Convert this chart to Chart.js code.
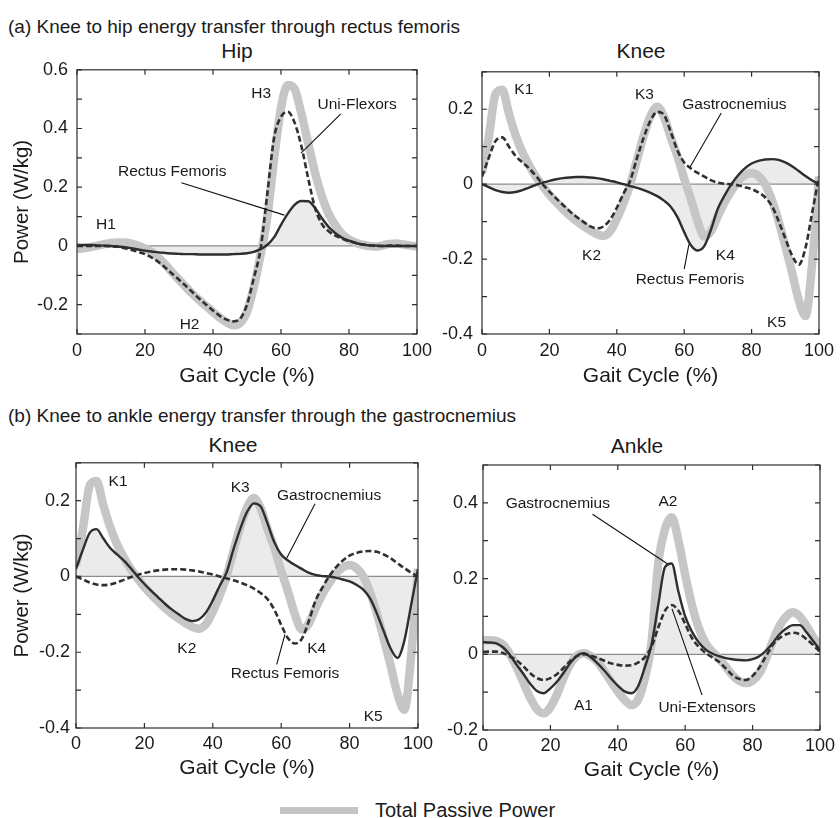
<!DOCTYPE html>
<html>
<head>
<meta charset="utf-8">
<script src="https://cdn.jsdelivr.net/npm/chart.js@4.4.1/dist/chart.umd.min.js"></script>
<style>
  body { margin: 0; background: #fff; }
  #page { position: relative; width: 840px; height: 818px; overflow: hidden; font-family: "Liberation Sans", Arial, sans-serif; color: #1a1a1a; }
  canvas { position: absolute; }
  .txt { position: absolute; white-space: nowrap; }
  .head { font-size: 19px; line-height: 19px; left: 8px; }
  .ttl { font-size: 21px; line-height: 21px; width: 200px; text-align: center; }
</style>
</head>
<body>
<div id="page">
  <div class="txt head" style="top:17px">(a) Knee to hip energy transfer through rectus femoris</div>
  <div class="txt ttl" style="top:40px; left:137px">Hip</div>
  <div class="txt ttl" style="top:40px; left:541px">Knee</div>
  <canvas id="hipChart" width="438" height="339" style="left:0px; top:50px"></canvas>
  <canvas id="kneeTopChart" width="410" height="337" style="left:430px; top:52px"></canvas>

  <div class="txt head" style="top:406px">(b) Knee to ankle energy transfer through the gastrocnemius</div>
  <div class="txt ttl" style="top:434px; left:133px">Knee</div>
  <div class="txt ttl" style="top:435px; left:537px">Ankle</div>
  <canvas id="kneeBotChart" width="438" height="335" style="left:0px; top:446px"></canvas>
  <canvas id="ankleChart" width="410" height="334" style="left:430px; top:449px"></canvas>

  <div style="position:absolute; left:280px; top:807px; width:78px; height:7px; background:#c4c4c4"></div>
  <div class="txt" style="left:375px; top:800px; font-size:20px; line-height:20px">Total Passive Power</div>
</div>

<script>
const gaitX = [0, 2, 4, 6, 8, 10, 12, 14, 16, 18, 20, 22, 24, 26, 28, 30, 32, 34, 36, 38, 40, 42, 44, 46, 48, 50,
    52, 54, 56, 58, 60, 62, 64, 66, 68, 70, 72, 74, 76, 78, 80, 82, 84, 86, 88, 90, 92, 94, 96, 98, 100];

// hip power (W/kg)
const hipTotal = [-0.010, -0.008, -0.004, 0.001, 0.006, 0.010, 0.012, 0.012, 0.008, 0.001, -0.009, -0.021, -0.040,
    -0.064, -0.090, -0.115, -0.140, -0.164, -0.185, -0.205, -0.225, -0.244, -0.260, -0.270, -0.262, -0.225,
    -0.140, -0.030, 0.100, 0.300, 0.470, 0.548, 0.535, 0.450, 0.350, 0.250, 0.170, 0.110, 0.070, 0.040,
    0.022, 0.011, 0.004, 0.000, -0.002, 0.002, 0.007, 0.008, 0.005, 0.001, -0.002];
const hipUniFlexors = [0, 0, 0, 0, 0, -0.001, -0.003, -0.008, -0.014, -0.020, -0.028, -0.040, -0.055,
    -0.074, -0.095, -0.115, -0.136, -0.158, -0.180, -0.200, -0.220, -0.238, -0.251, -0.257, -0.248, -0.200,
    -0.110, -0.010, 0.180, 0.370, 0.440, 0.457, 0.420, 0.340, 0.230, 0.130, 0.075, 0.050, 0.035, 0.025,
    0.017, 0.010, 0.005, 0.002, 0, 0, 0.001, 0.001, 0, 0, 0];
const hipRectusFemoris = [0.003, 0.003, 0.003, 0.002, 0.001, 0, -0.002, -0.004, -0.008, -0.012, -0.016, -0.019,
    -0.022, -0.024, -0.026, -0.027, -0.028, -0.028, -0.029, -0.029, -0.029, -0.029, -0.029, -0.028, -0.027,
    -0.025, -0.020, -0.011, 0.004, 0.030, 0.072, 0.110, 0.140, 0.153, 0.152, 0.130, 0.095, 0.065, 0.043,
    0.028, 0.018, 0.010, 0.005, 0.002, 0.001, 0, 0, 0, 0, 0, 0];

// knee power (W/kg)
const kneeTotal = [0.030, 0.125, 0.240, 0.252, 0.188, 0.130, 0.085, 0.050, 0.020, -0.005, -0.028, -0.048,
    -0.066, -0.083, -0.098, -0.111, -0.123, -0.133, -0.138, -0.126, -0.093, -0.050, 0.000, 0.065, 0.130,
    0.182, 0.207, 0.180, 0.125, 0.075, 0.015, -0.040, -0.100, -0.140, -0.125, -0.085, -0.048, -0.018, 0.008,
    0.024, 0.030, 0.022, 0.000, -0.042, -0.098, -0.165, -0.235, -0.310, -0.352, -0.210, 0.020];
const kneeGastrocnemius = [0.020, 0.070, 0.115, 0.125, 0.100, 0.075, 0.058, 0.042, 0.022, 0.000, -0.020, -0.038,
    -0.055, -0.072, -0.087, -0.100, -0.112, -0.118, -0.113, -0.095, -0.063, -0.025, 0.010, 0.070, 0.125,
    0.170, 0.193, 0.185, 0.140, 0.090, 0.058, 0.042, 0.030, 0.020, 0.010, 0.004, 0.001, 0.000, -0.003,
    -0.008, -0.013, -0.022, -0.035, -0.058, -0.098, -0.145, -0.190, -0.215, -0.170, -0.075, 0.020];
const kneeRectusFemoris = [0, -0.008, -0.016, -0.021, -0.023, -0.021, -0.016, -0.009, -0.002, 0.004, 0.009,
    0.013, 0.016, 0.018, 0.019, 0.019, 0.018, 0.016, 0.013, 0.009, 0.005, 0.000, -0.005, -0.010, -0.016,
    -0.023, -0.032, -0.044, -0.060, -0.088, -0.128, -0.163, -0.177, -0.165, -0.120, -0.065, -0.030, 0.000,
    0.024, 0.042, 0.055, 0.062, 0.066, 0.067, 0.065, 0.058, 0.048, 0.035, 0.022, 0.010, 0];

// ankle power (W/kg)
const ankleTotal = [0.037, 0.037, 0.035, 0.025, 0.000, -0.035, -0.075, -0.115, -0.145, -0.156, -0.140, -0.105,
    -0.060, -0.025, -0.003, 0.003, -0.005, -0.020, -0.045, -0.072, -0.098, -0.120, -0.134, -0.120, -0.065,
    0.030, 0.240, 0.330, 0.362, 0.300, 0.210, 0.130, 0.070, 0.030, 0.007, -0.010, -0.032, -0.055, -0.070,
    -0.076, -0.070, -0.050, -0.012, 0.035, 0.075, 0.100, 0.111, 0.100, 0.075, 0.045, 0.020];
const ankleGastrocnemius = [0.032, 0.031, 0.029, 0.018, -0.002, -0.028, -0.052, -0.078, -0.097, -0.103, -0.090,
    -0.072, -0.048, -0.022, -0.003, 0.003, -0.008, -0.024, -0.043, -0.064, -0.083, -0.098, -0.103, -0.085,
    -0.035, 0.025, 0.130, 0.230, 0.240, 0.165, 0.100, 0.060, 0.032, 0.013, 0.002, -0.005, -0.010, -0.013,
    -0.015, -0.016, -0.013, -0.005, 0.010, 0.030, 0.053, 0.068, 0.077, 0.077, 0.058, 0.035, 0.011];
const ankleUniExtensors = [0.006, 0.007, 0.007, 0.003, -0.006, -0.016, -0.032, -0.050, -0.063, -0.068, -0.063,
    -0.052, -0.035, -0.017, -0.004, 0.000, -0.004, -0.010, -0.017, -0.024, -0.028, -0.030, -0.029, -0.022,
    -0.008, 0.020, 0.070, 0.115, 0.130, 0.115, 0.080, 0.043, 0.020, 0.004, -0.008, -0.020, -0.037, -0.055,
    -0.065, -0.068, -0.057, -0.035, -0.005, 0.025, 0.043, 0.053, 0.057, 0.053, 0.040, 0.024, 0.007];

// labels on the plots, in data units
const hipNotes = [
    { text: 'H1', x: 8.5, y: 0.072 },
    { text: 'H2', x: 33.1, y: -0.269 },
    { text: 'H3', x: 54.2, y: 0.52 },
    { text: 'Uni-Flexors', x: 82.4, y: 0.48 },
    { text: 'Rectus Femoris', x: 28, y: 0.252 }
];
const hipLeaders = [[77.6, 0.45, 65.9, 0.316], [30.7, 0.215, 61, 0.105]];

const kneeTopNotes = [
    { text: 'K1', x: 12.4, y: 0.253 },
    { text: 'K3', x: 48.2, y: 0.24 },
    { text: 'Gastrocnemius', x: 74.9, y: 0.212 },
    { text: 'K2', x: 32.5, y: -0.19 },
    { text: 'K4', x: 72.2, y: -0.19 },
    { text: 'Rectus Femoris', x: 61.7, y: -0.256 },
    { text: 'K5', x: 87.4, y: -0.37 }
];
const kneeTopLeaders = [[71, 0.19, 61.7, 0.045], [60, -0.227, 61.4, -0.161]];

const kneeBotNotes = [
    { text: 'K1', x: 12.3, y: 0.25 },
    { text: 'K3', x: 48, y: 0.234 },
    { text: 'Gastrocnemius', x: 74, y: 0.213 },
    { text: 'K2', x: 32.4, y: -0.19 },
    { text: 'K4', x: 70.4, y: -0.19 },
    { text: 'Rectus Femoris', x: 61.1, y: -0.256 },
    { text: 'K5', x: 86.9, y: -0.37 }
];
const kneeBotLeaders = [[69.9, 0.192, 61.6, 0.048], [58.7, -0.232, 61.1, -0.153]];

const ankleNotes = [
    { text: 'Gastrocnemius', x: 22.2, y: 0.399 },
    { text: 'A2', x: 54.9, y: 0.403 },
    { text: 'A1', x: 29.8, y: -0.137 },
    { text: 'Uni-Extensors', x: 66.5, y: -0.142 }
];
const ankleLeaders = [[32.5, 0.37, 54.7, 0.239], [65, -0.108, 56.1, 0.12]];

Chart.defaults.font.family = '"Liberation Sans", Arial, sans-serif';
Chart.defaults.color = '#1a1a1a';

const INK = '#2e2e2e';

// frame, inward ticks, zero line and the text notes
const framePlugin = {
    id: 'frame',
    beforeDatasetsDraw(chart) {
        const { ctx, chartArea: a, scales: { y } } = chart;
        const y0 = y.getPixelForValue(0);
        ctx.save();
        ctx.strokeStyle = '#8c8c8c';
        ctx.lineWidth = 1.3;
        ctx.beginPath();
        ctx.moveTo(a.left, y0);
        ctx.lineTo(a.right, y0);
        ctx.stroke();
        ctx.restore();
    },
    afterDatasetsDraw(chart, args, opts) {
        const { ctx, chartArea: a, scales: { x, y } } = chart;
        ctx.save();
        ctx.strokeStyle = INK;
        ctx.lineWidth = 1.2;
        ctx.strokeRect(a.left, a.top, a.right - a.left, a.bottom - a.top);
        ctx.beginPath();
        x.ticks.forEach(t => {
            const px = x.getPixelForValue(t.value);
            ctx.moveTo(px, a.bottom); ctx.lineTo(px, a.bottom - 5);
            ctx.moveTo(px, a.top); ctx.lineTo(px, a.top + 5);
        });
        y.ticks.forEach(t => {
            const py = y.getPixelForValue(t.value);
            ctx.moveTo(a.left, py); ctx.lineTo(a.left + 5, py);
            ctx.moveTo(a.right, py); ctx.lineTo(a.right - 5, py);
        });
        ctx.stroke();

        ctx.strokeStyle = '#111';
        ctx.lineWidth = 1.1;
        ctx.beginPath();
        (opts.leaders || []).forEach(l => {
            ctx.moveTo(x.getPixelForValue(l[0]), y.getPixelForValue(l[1]));
            ctx.lineTo(x.getPixelForValue(l[2]), y.getPixelForValue(l[3]));
        });
        ctx.stroke();

        ctx.fillStyle = '#1a1a1a';
        ctx.font = '15.5px "Liberation Sans", Arial, sans-serif';
        ctx.textAlign = 'center';
        ctx.textBaseline = 'middle';
        (opts.notes || []).forEach(n => {
            ctx.fillText(n.text, x.getPixelForValue(n.x), y.getPixelForValue(n.y));
        });
        ctx.restore();
    }
};

function toPoints(values) {
    return values.map((v, i) => ({ x: gaitX[i], y: v }));
}

function makePanel(id, p) {
    const solid = {
        data: toPoints(p.solid),
        borderColor: INK,
        borderWidth: 2.4,
        fill: 'origin',
        backgroundColor: '#ebebeb'
    };
    const dashed = {
        data: toPoints(p.dashed),
        borderColor: '#303030',
        borderWidth: 2.6,
        borderDash: [6, 3],
        fill: false
    };
    const total = {
        data: toPoints(p.total),
        borderColor: '#c6c6c6',
        borderWidth: 8.5,
        borderJoinStyle: 'round',
        fill: false
    };
    return new Chart(document.getElementById(id), {
        type: 'line',
        data: { datasets: [solid, dashed, total] },
        options: {
            responsive: false,
            animation: false,
            events: [],
            layout: { padding: { top: 16, right: p.padRight, left: 0, bottom: 0 } },
            elements: {
                point: { radius: 0 },
                line: { cubicInterpolationMode: 'monotone' }
            },
            plugins: {
                legend: { display: false },
                tooltip: { enabled: false },
                filler: { drawTime: 'beforeDatasetsDraw' },
                frame: { notes: p.notes, leaders: p.leaders }
            },
            scales: {
                x: {
                    type: 'linear',
                    min: 0,
                    max: 100,
                    grid: { display: false, drawTicks: false },
                    border: { display: false },
                    ticks: { stepSize: 20, padding: p.xPad, maxRotation: 0, font: { size: 18 }, color: '#1a1a1a' },
                    title: { display: true, text: 'Gait Cycle (%)', font: { size: 21 }, padding: { top: 0, bottom: 0 }, color: '#1a1a1a' },
                    afterFit: s => { s.height = p.xHeight; }
                },
                y: {
                    min: p.yMin,
                    max: p.yMax,
                    grid: { display: false, drawTicks: false },
                    border: { display: false },
                    ticks: {
                        stepSize: 0.1,
                        autoSkip: false,
                        padding: p.yPad,
                        font: { size: 18 },
                        color: '#1a1a1a',
                        callback: v => {
                            const k = Math.round(v * 10);
                            if (k % 2 !== 0) return '';
                            return k === 0 ? '0' : (k / 10).toFixed(1);
                        }
                    },
                    title: { display: p.yTitle, text: 'Power (W/kg)', font: { size: 20.5 }, padding: { top: 10, bottom: 0 }, color: '#1a1a1a' },
                    afterFit: s => { s.width = p.yWidth; }
                }
            }
        },
        plugins: [framePlugin]
    });
}

makePanel('hipChart', {
    total: hipTotal, dashed: hipUniFlexors, solid: hipRectusFemoris,
    yMin: -0.3, yMax: 0.6, yWidth: 77, yPad: 9, yTitle: true,
    xHeight: 55, xPad: 6, padRight: 20,
    notes: hipNotes, leaders: hipLeaders
});
makePanel('kneeTopChart', {
    total: kneeTotal, dashed: kneeGastrocnemius, solid: kneeRectusFemoris,
    yMin: -0.4, yMax: 0.3, yWidth: 52, yPad: 9, yTitle: false,
    xHeight: 55, xPad: 6, padRight: 18,
    notes: kneeTopNotes, leaders: kneeTopLeaders
});
makePanel('kneeBotChart', {
    total: kneeTotal, dashed: kneeRectusFemoris, solid: kneeGastrocnemius,
    yMin: -0.4, yMax: 0.3, yWidth: 76, yPad: 6, yTitle: true,
    xHeight: 53, xPad: 5, padRight: 20,
    notes: kneeBotNotes, leaders: kneeBotLeaders
});
makePanel('ankleChart', {
    total: ankleTotal, dashed: ankleUniExtensors, solid: ankleGastrocnemius,
    yMin: -0.2, yMax: 0.5, yWidth: 53, yPad: 5, yTitle: false,
    xHeight: 53, xPad: 5, padRight: 18,
    notes: ankleNotes, leaders: ankleLeaders
});
</script>
</body>
</html>
